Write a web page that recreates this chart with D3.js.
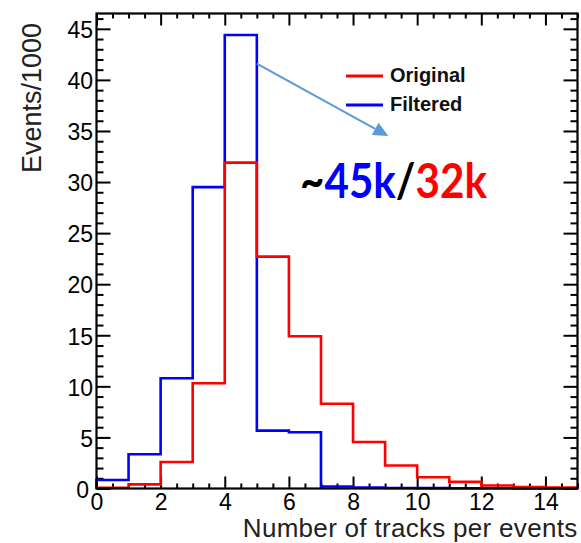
<!DOCTYPE html>
<html>
<head>
<meta charset="utf-8">
<script src="https://cdn.jsdelivr.net/npm/d3@7"></script>
<style>
  html, body { margin: 0; padding: 0; background: #fff; }
  svg { display: block; }
  .tick text { font-family: "Liberation Sans", Arial, Helvetica, sans-serif; }
</style>
</head>
<body>
<svg id="chart" width="581" height="543"></svg>
<script>
// Track multiplicity histograms (events per bin, in thousands)
const binEdges = [0, 1, 2, 3, 4, 5, 6, 7, 8, 9, 10, 11, 12, 13, 14, 15];
const originalCounts = [0.08, 0.4, 2.6, 10.3, 31.9, 22.7, 14.9, 8.3, 4.55, 2.25, 1.1, 0.65, 0.3, 0.15, 0.1];
const filteredCounts = [0.83, 3.35, 10.8, 29.5, 44.4, 5.67, 5.5, 0.2, 0.1, 0.05, 0.04, 0.03, 0.02, 0.01, 0.01];
const xTickValues = [0, 2, 4, 6, 8, 10, 12, 14];
const yTickValues = [0, 5, 10, 15, 20, 25, 30, 35, 40, 45];
const seriesNames = ["Original", "Filtered"];
const seriesColors = ["#ff0000", "#0000ff"];
const annotationParts = [
  { text: "~", color: "#000000" },
  { text: "45k", color: "#0000ff" },
  { text: "/", color: "#000000" },
  { text: "32k", color: "#ff0000" }
];

const svg = d3.select("#chart");
const frame = { left: 96.5, right: 577.5, top: 13.5, bottom: 488.5 };
const x = d3.scaleLinear().domain([0, 15]).range([frame.left, frame.right]);
const y = d3.scaleLinear().domain([0, 46.5]).range([frame.bottom, frame.top]);

const font = '"Liberation Sans", Arial, Helvetica, sans-serif';

// Minor tick positions
const xMinor = d3.range(0, 15.001, 0.5).filter(v => v % 2 !== 0);
const yMinor = d3.range(0, 46.001, 1).filter(v => v % 5 !== 0);

function styleAxis(g) {
  g.select(".domain").remove();
  g.selectAll(".tick line").attr("stroke", "#000").attr("stroke-width", 2);
}

// Bottom axis with labels
svg.append("g")
  .attr("transform", `translate(0,${frame.bottom})`)
  .call(d3.axisBottom(x).tickValues(xTickValues).tickSizeInner(-12).tickSizeOuter(0).tickPadding(5).tickFormat(d3.format("d")))
  .call(styleAxis)
  .call(g => g.selectAll(".tick text").attr("font-size", 23).attr("fill", "#000").attr("font-family", font));
svg.append("g")
  .attr("transform", `translate(0,${frame.bottom})`)
  .call(d3.axisBottom(x).tickValues(xMinor).tickSizeInner(-5).tickSizeOuter(0).tickFormat(""))
  .call(styleAxis);
// Top axis ticks
svg.append("g")
  .attr("transform", `translate(0,${frame.top})`)
  .call(d3.axisTop(x).tickValues(xTickValues).tickSizeInner(-12).tickSizeOuter(0).tickFormat(""))
  .call(styleAxis);
svg.append("g")
  .attr("transform", `translate(0,${frame.top})`)
  .call(d3.axisTop(x).tickValues(xMinor).tickSizeInner(-5).tickSizeOuter(0).tickFormat(""))
  .call(styleAxis);

// Left axis with labels
svg.append("g")
  .attr("transform", `translate(${frame.left},0)`)
  .call(d3.axisLeft(y).tickValues(yTickValues).tickSizeInner(-14).tickSizeOuter(0).tickPadding(3.5).tickFormat(d3.format("d")))
  .call(styleAxis)
  .call(g => g.selectAll(".tick text").attr("font-size", 23).attr("fill", "#000").attr("font-family", font).attr("dy", "0.38em"))
  .call(g => g.selectAll(".tick").filter(d => d === 0).select("text").attr("dx", -4));
svg.append("g")
  .attr("transform", `translate(${frame.left},0)`)
  .call(d3.axisLeft(y).tickValues(yMinor).tickSizeInner(-7).tickSizeOuter(0).tickFormat(""))
  .call(styleAxis);
// Right axis ticks
svg.append("g")
  .attr("transform", `translate(${frame.right},0)`)
  .call(d3.axisRight(y).tickValues(yTickValues).tickSizeInner(-14).tickSizeOuter(0).tickFormat(""))
  .call(styleAxis);
svg.append("g")
  .attr("transform", `translate(${frame.right},0)`)
  .call(d3.axisRight(y).tickValues(yMinor).tickSizeInner(-7).tickSizeOuter(0).tickFormat(""))
  .call(styleAxis);

// Histogram outlines as step paths
function stepPoints(counts) {
  const pts = [[binEdges[0], 0]];
  counts.forEach((c, i) => {
    pts.push([binEdges[i], c]);
    pts.push([binEdges[i + 1], c]);
  });
  pts.push([binEdges[binEdges.length - 1], 0]);
  return pts;
}
const line = d3.line().x(d => x(d[0])).y(d => y(d[1]));
[filteredCounts, originalCounts].forEach((counts, k) => {
  svg.append("path")
    .attr("d", line(stepPoints(counts)))
    .attr("fill", "none")
    .attr("stroke", k === 0 ? seriesColors[1] : seriesColors[0])
    .attr("stroke-width", 2.6)
    .attr("stroke-linejoin", "miter");
});

// Frame
svg.append("rect")
  .attr("x", frame.left).attr("y", frame.top)
  .attr("width", frame.right - frame.left).attr("height", frame.bottom - frame.top)
  .attr("fill", "none").attr("stroke", "#000").attr("stroke-width", 2.2);

// Axis titles
svg.append("text")
  .attr("x", frame.right).attr("y", 537)
  .attr("text-anchor", "end")
  .attr("font-family", font).attr("font-size", 26).attr("letter-spacing", 0.3).attr("fill", "#222")
  .text("Number of tracks per events");
svg.append("text")
  .attr("transform", `translate(41,23) rotate(-90)`)
  .attr("text-anchor", "end")
  .attr("font-family", font).attr("font-size", 27).attr("fill", "#222")
  .text("Events/1000");

// Legend
const legend = svg.append("g");
seriesNames.forEach((name, i) => {
  const ly = 76 + i * 29;
  legend.append("line")
    .attr("x1", 346).attr("x2", 383).attr("y1", ly).attr("y2", ly)
    .attr("stroke", seriesColors[i]).attr("stroke-width", 3);
  legend.append("text")
    .attr("x", 390).attr("y", ly + 5.5)
    .attr("font-family", font).attr("font-weight", "bold").attr("font-size", 20).attr("fill", "#111")
    .text(name);
});

// Arrow pointing from the filtered peak towards the annotation
const arrowStart = [5, 41.6];
const arrowTip = [9.1, 34.5];
const ax0 = x(arrowStart[0]), ay0 = y(arrowStart[1]);
const ax1 = x(arrowTip[0]), ay1 = y(arrowTip[1]);
const ang = Math.atan2(ay1 - ay0, ax1 - ax0);
const headLen = 15, headHalf = 7;
const bx = ax1 - headLen * Math.cos(ang), by = ay1 - headLen * Math.sin(ang);
svg.append("line")
  .attr("x1", ax0).attr("y1", ay0).attr("x2", bx).attr("y2", by)
  .attr("stroke", "#5b9bd5").attr("stroke-width", 2);
svg.append("path")
  .attr("d", `M${ax1},${ay1} L${bx - headHalf * Math.sin(ang)},${by + headHalf * Math.cos(ang)} L${bx + headHalf * Math.sin(ang)},${by - headHalf * Math.cos(ang)} Z`)
  .attr("fill", "#5b9bd5");

// Annotation text: tall bold face, narrowed horizontally to fit its box
const annWidth = 187;
const ann = svg.append("text")
  .attr("font-family", "Lato, 'Open Sans', sans-serif").attr("font-weight", "bold").attr("font-size", 47);
ann.selectAll("tspan").data(annotationParts).join("tspan")
  .attr("fill", d => d.color)
  .text(d => d.text);
const natural = ann.node().getComputedTextLength();
ann.attr("transform", `translate(300,198) scale(${annWidth / natural},1)`);
</script>
</body>
</html>
